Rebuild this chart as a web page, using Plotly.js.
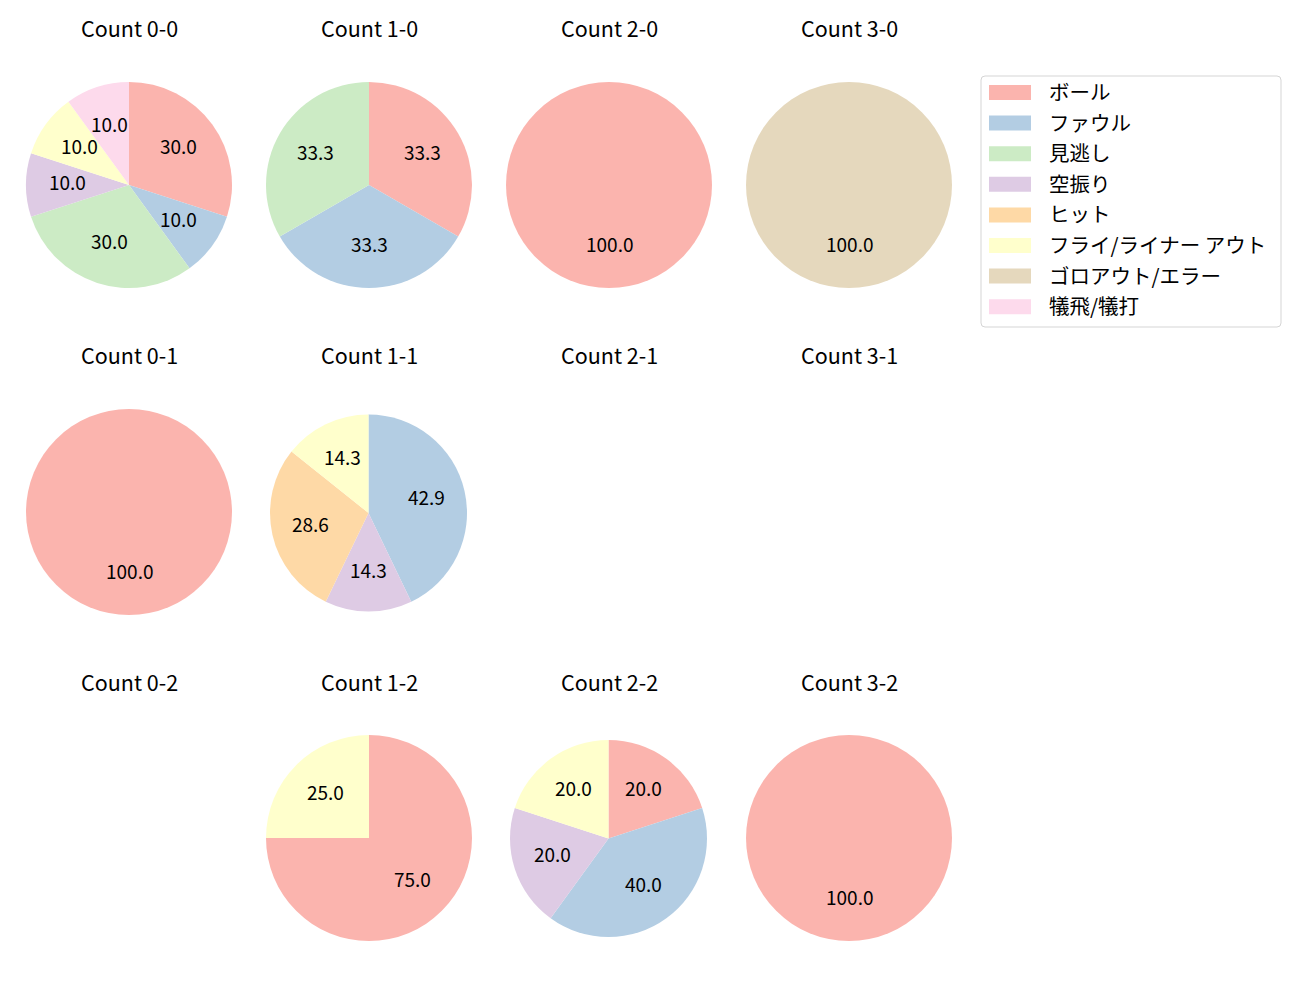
<!DOCTYPE html>
<html><head><meta charset="utf-8">
<script src="https://cdn.plot.ly/plotly-3.0.1.min.js"></script>
<style>body{margin:0;background:#fff}</style>
</head><body><div id="chart" style="width:1300px;height:1000px"></div>
<script>
// ---- data ----
const categories = ['ボール','ファウル','見逃し','空振り','ヒット','フライ/ライナー アウト','ゴロアウト/エラー','犠飛/犠打'];
const colors = ['#fbb4ae','#b3cde3','#ccebc5','#decbe4','#fed9a6','#ffffcc','#e5d8bd','#fddaec'];
const panelTitles = ['Count 0-0','Count 1-0','Count 2-0','Count 3-0',
                     'Count 0-1','Count 1-1','Count 2-1','Count 3-1',
                     'Count 0-2','Count 1-2','Count 2-2','Count 3-2'];
const count00 = [3,1,3,1,0,1,0,1];
const count10 = [1,1,1,0,0,0,0,0];
const count20 = [1,0,0,0,0,0,0,0];
const count30 = [0,0,0,0,0,0,1,0];
const count01 = [1,0,0,0,0,0,0,0];
const count11 = [0,3,0,1,2,1,0,0];
const count21 = [];
const count31 = [];
const count02 = [];
const count12 = [3,0,0,0,0,1,0,0];
const count22 = [1,2,0,1,0,1,0,0];
const count32 = [1,0,0,0,0,0,0,0];
const panelValues = [count00,count10,count20,count30,count01,count11,count21,count31,count02,count12,count22,count32];

// ---- layout geometry (pixels) ----
const W = 1300, H = 1000;
const colX = [129,369,609,849];
const rowY = [185,512,838];
const titleY = [28,355,682];
const FONT = '"Noto Sans CJK JP", "Noto Sans", sans-serif';
const FS_TITLE = 21.5, FS_PCT = 19, FS_LEG = 20.5;
const DY_T = -0.5, DY_P = -3, DY_L = -1.5; // text vertical nudges
const geom = panelValues.map((v,i)=>({cx:colX[i%4], cy:rowY[Math.floor(i/4)], r:103}));
geom[5] = {cx:368.5, cy:513, r:98.5};
geom[10] = {cx:608.5, cy:838.5, r:98.5};

const X = px => px / W;
const Y = py => 1 - py / H;

const traces = [];
const annotations = [];
const shapes = [];

panelValues.forEach((vals, i) => {
  const g = geom[i];
  annotations.push({text: panelTitles[i], x: X(colX[i%4]), y: Y(titleY[Math.floor(i/4)] + DY_T), xref:'paper', yref:'paper',
    xanchor:'center', yanchor:'middle', showarrow:false, font:{family:FONT, size:FS_TITLE, color:'#000'}});
  const labs = [], vs = [], cs = [];
  vals.forEach((v,k)=>{ if (v>0){ labs.push(categories[k]); vs.push(v); cs.push(colors[k]); } });
  if (!vs.length) return;
  traces.push({type:'pie', labels:labs, values:vs, sort:false, direction:'clockwise', rotation:0,
    marker:{colors:cs, line:{width:0}}, textinfo:'none', hoverinfo:'label+percent', showlegend:false,
    domain:{x:[X(g.cx-g.r), X(g.cx+g.r)], y:[Y(g.cy+g.r), Y(g.cy-g.r)]}});
  const total = vs.reduce((a,b)=>a+b,0);
  let cum = 0;
  vs.forEach(v=>{
    const mid = (cum + v/2) / total * 2 * Math.PI;
    cum += v;
    const px = g.cx + 0.6 * g.r * Math.sin(mid);
    const py = g.cy - 0.6 * g.r * Math.cos(mid);
    annotations.push({text:(v/total*100).toFixed(1), x:X(px), y:Y(py + DY_P), xref:'paper', yref:'paper',
      xanchor:'center', yanchor:'middle', showarrow:false, font:{family:FONT, size:FS_PCT, color:'#000'}});
  });
});

// ---- legend (drawn) ----
const lx0 = 981, ly0 = 76, lx1 = 1281, ly1 = 327, rr = 4;
const rx = rr / W, ry = rr / H;
shapes.push({type:'path', xref:'paper', yref:'paper',
  path:`M ${X(lx0)+rx},${Y(ly0)} L ${X(lx1)-rx},${Y(ly0)} Q ${X(lx1)},${Y(ly0)} ${X(lx1)},${Y(ly0)-ry} L ${X(lx1)},${Y(ly1)+ry} Q ${X(lx1)},${Y(ly1)} ${X(lx1)-rx},${Y(ly1)} L ${X(lx0)+rx},${Y(ly1)} Q ${X(lx0)},${Y(ly1)} ${X(lx0)},${Y(ly1)+ry} L ${X(lx0)},${Y(ly0)-ry} Q ${X(lx0)},${Y(ly0)} ${X(lx0)+rx},${Y(ly0)} Z`,
  line:{color:'#d5d5d5', width:1}, fillcolor:'rgba(255,255,255,0.8)'});
categories.forEach((c,k)=>{
  const yc = 92.5 + k * 30.6;
  shapes.push({type:'rect', xref:'paper', yref:'paper', x0:X(989), x1:X(1031), y0:Y(yc+7.5), y1:Y(yc-7.5),
    fillcolor:colors[k], line:{width:0}});
  annotations.push({text:c, x:X(1047), y:Y(yc + DY_L), xref:'paper', yref:'paper', xanchor:'left', yanchor:'middle',
    showarrow:false, font:{family:FONT, size:FS_LEG, color:'#000'}});
});

Plotly.newPlot('chart', traces, {
  width:W, height:H, margin:{l:0,r:0,t:0,b:0}, paper_bgcolor:'#fff', plot_bgcolor:'#fff',
  showlegend:false, annotations, shapes, font:{family:FONT}
}, {displayModeBar:false, staticPlot:true});
</script></body></html>
